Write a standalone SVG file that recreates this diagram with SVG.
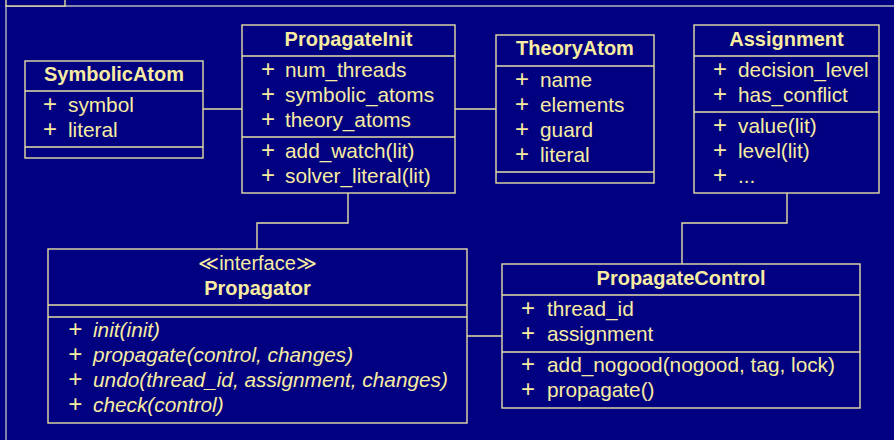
<svg xmlns="http://www.w3.org/2000/svg" width="894" height="440" viewBox="0 0 894 440">
  <style>
    .box { fill: #000080; stroke: #e6dea6; stroke-width: 1.4; }
    .sep { stroke: #e6dea6; stroke-width: 1.4; }
    .conn { fill: none; stroke: #e6dea6; stroke-width: 1.4; }
    .frame { fill: none; stroke: #b4b4bc; stroke-width: 1.4; }
    text { font-family: "Liberation Sans", Arial, sans-serif; fill: #f8eca2; }
    .title { font-size: 20px; font-weight: bold; text-anchor: middle; }
    .stereo { font-size: 20px; text-anchor: middle; }
    .item { font-size: 20.8px; }
    .item .vis { font-size: 24px; }
    .abstract { font-style: italic; }
  </style>

  <!-- slide background and frame -->
  <rect x="0" y="0" width="894" height="440" fill="#000080"/>
  <path class="frame" d="M6,446 V6 H900"/>
  <rect x="6" y="-12" width="59" height="18" fill="#000080" stroke="#e6dea6" stroke-width="1.4"/>

  <!-- associations -->
  <g id="connectors">
    <path class="conn" d="M203,109 H242"/>
    <path class="conn" d="M455,109 H496"/>
    <path class="conn" d="M348,193 V223 H257 V249"/>
    <path class="conn" d="M787,193 V223 H682 V264"/>
    <path class="conn" d="M467,336 H502"/>
  </g>

  <!-- SymbolicAtom -->
  <g id="SymbolicAtom">
    <rect class="box" x="25" y="61" width="178" height="97"/>
    <line class="sep" x1="25" y1="91" x2="203" y2="91"/>
    <line class="sep" x1="25" y1="147" x2="203" y2="147"/>
    <text class="title" x="114" y="81">SymbolicAtom</text>
    <text class="item" y="112"><tspan class="vis" x="43">+</tspan><tspan x="68">symbol</tspan></text>
    <text class="item" y="137"><tspan class="vis" x="43">+</tspan><tspan x="68">literal</tspan></text>
  </g>

  <!-- PropagateInit -->
  <g id="PropagateInit">
    <rect class="box" x="242" y="25" width="213" height="168"/>
    <line class="sep" x1="242" y1="56" x2="455" y2="56"/>
    <line class="sep" x1="242" y1="137" x2="455" y2="137"/>
    <text class="title" x="348.5" y="46">PropagateInit</text>
    <text class="item" y="77"><tspan class="vis" x="261">+</tspan><tspan x="285">num_threads</tspan></text>
    <text class="item" y="102"><tspan class="vis" x="261">+</tspan><tspan x="285">symbolic_atoms</tspan></text>
    <text class="item" y="127"><tspan class="vis" x="261">+</tspan><tspan x="285">theory_atoms</tspan></text>
    <text class="item" y="158"><tspan class="vis" x="261">+</tspan><tspan x="285">add_watch(lit)</tspan></text>
    <text class="item" y="183"><tspan class="vis" x="261">+</tspan><tspan x="285">solver_literal(lit)</tspan></text>
  </g>

  <!-- TheoryAtom -->
  <g id="TheoryAtom">
    <rect class="box" x="496" y="35" width="158" height="148"/>
    <line class="sep" x1="496" y1="66" x2="654" y2="66"/>
    <line class="sep" x1="496" y1="172" x2="654" y2="172"/>
    <text class="title" x="575" y="55">TheoryAtom</text>
    <text class="item" y="87"><tspan class="vis" x="515">+</tspan><tspan x="540">name</tspan></text>
    <text class="item" y="112"><tspan class="vis" x="515">+</tspan><tspan x="540">elements</tspan></text>
    <text class="item" y="137"><tspan class="vis" x="515">+</tspan><tspan x="540">guard</tspan></text>
    <text class="item" y="162"><tspan class="vis" x="515">+</tspan><tspan x="540">literal</tspan></text>
  </g>

  <!-- Assignment -->
  <g id="Assignment">
    <rect class="box" x="694" y="25" width="185" height="168"/>
    <line class="sep" x1="694" y1="56" x2="879" y2="56"/>
    <line class="sep" x1="694" y1="112" x2="879" y2="112"/>
    <text class="title" x="786.5" y="46">Assignment</text>
    <text class="item" y="77"><tspan class="vis" x="713">+</tspan><tspan x="738">decision_level</tspan></text>
    <text class="item" y="102"><tspan class="vis" x="713">+</tspan><tspan x="738">has_conflict</tspan></text>
    <text class="item" y="133"><tspan class="vis" x="713">+</tspan><tspan x="738">value(lit)</tspan></text>
    <text class="item" y="158"><tspan class="vis" x="713">+</tspan><tspan x="738">level(lit)</tspan></text>
    <text class="item" y="183"><tspan class="vis" x="713">+</tspan><tspan x="738">...</tspan></text>
  </g>

  <!-- Propagator interface -->
  <g id="Propagator">
    <rect class="box" x="48" y="249" width="419" height="174"/>
    <line class="sep" x1="48" y1="305" x2="467" y2="305"/>
    <line class="sep" x1="48" y1="317" x2="467" y2="317"/>
    <text class="stereo" x="257.5" y="270">≪interface≫</text>
    <text class="title" x="257.5" y="295">Propagator</text>
    <text class="item abstract" y="337"><tspan class="vis" x="68">+</tspan><tspan x="93">init(init)</tspan></text>
    <text class="item abstract" y="362"><tspan class="vis" x="68">+</tspan><tspan x="93">propagate(control, changes)</tspan></text>
    <text class="item abstract" y="387"><tspan class="vis" x="68">+</tspan><tspan x="93">undo(thread_id, assignment, changes)</tspan></text>
    <text class="item abstract" y="412"><tspan class="vis" x="68">+</tspan><tspan x="93">check(control)</tspan></text>
  </g>

  <!-- PropagateControl -->
  <g id="PropagateControl">
    <rect class="box" x="502" y="264" width="358" height="144"/>
    <line class="sep" x1="502" y1="295" x2="860" y2="295"/>
    <line class="sep" x1="502" y1="352" x2="860" y2="352"/>
    <text class="title" x="681" y="285">PropagateControl</text>
    <text class="item" y="316"><tspan class="vis" x="521">+</tspan><tspan x="547">thread_id</tspan></text>
    <text class="item" y="341"><tspan class="vis" x="521">+</tspan><tspan x="547">assignment</tspan></text>
    <text class="item" y="372"><tspan class="vis" x="521">+</tspan><tspan x="547">add_nogood(nogood, tag, lock)</tspan></text>
    <text class="item" y="397"><tspan class="vis" x="521">+</tspan><tspan x="547">propagate()</tspan></text>
  </g>
</svg>
